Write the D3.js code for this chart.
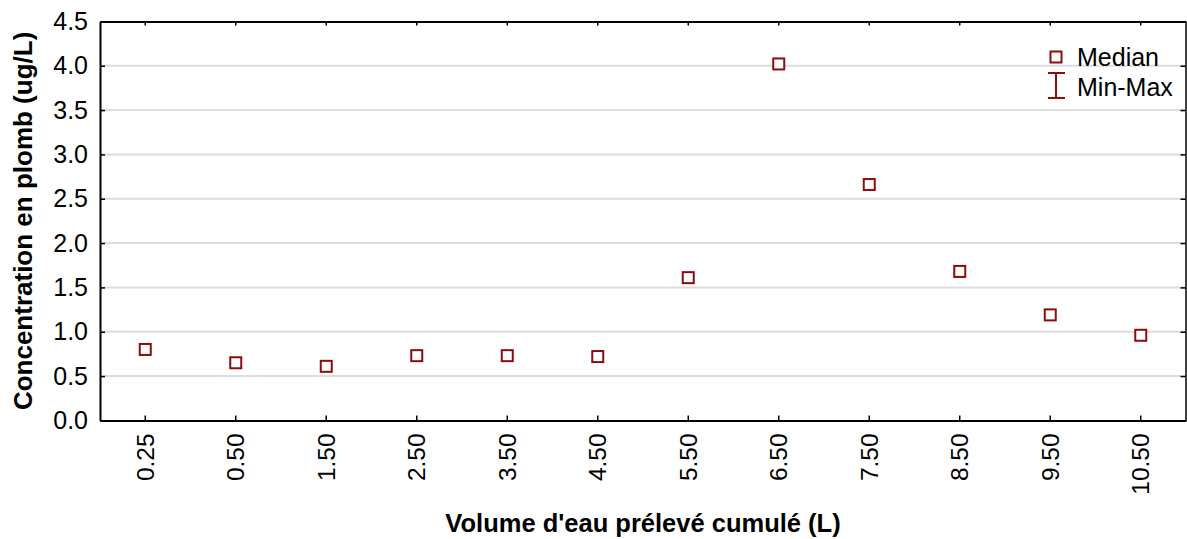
<!DOCTYPE html>
<html>
<head>
<meta charset="utf-8">
<script src="https://cdn.jsdelivr.net/npm/d3@7"></script>
<style>
  html, body { margin: 0; padding: 0; background: #fff; }
  svg { display: block; font-family: "Liberation Sans", Arial, sans-serif; }
</style>
</head>
<body>
<svg id="chart" width="1187" height="539"></svg>
<script>
// Cumulative sampled volume (L) and median lead concentration (ug/L)
const volumes = ["0.25", "0.50", "1.50", "2.50", "3.50", "4.50", "5.50", "6.50", "7.50", "8.50", "9.50", "10.50"];
const medians = [0.80, 0.65, 0.61, 0.73, 0.73, 0.72, 1.61, 4.02, 2.66, 1.68, 1.19, 0.96];
const yTicks = [0.0, 0.5, 1.0, 1.5, 2.0, 2.5, 3.0, 3.5, 4.0, 4.5];
const legendItems = ["Median", "Min-Max"];

const W = 1187, H = 539;
const margin = { left: 100, right: 1, top: 21.4, bottom: 118.6 };
const red = "#8c0c0c";
const font = "Liberation Sans, Arial, sans-serif";

const svg = d3.select("#chart");
const x = d3.scaleBand().domain(volumes).range([margin.left, W - margin.right]).paddingInner(0).paddingOuter(0);
const y = d3.scaleLinear().domain([0, 4.5]).range([H - margin.bottom, margin.top]);
const cx = d => x(d) + x.bandwidth() / 2;

// horizontal gridlines
svg.append("g")
  .selectAll("line")
  .data(yTicks.filter(t => t > 0 && t < 4.5))
  .join("line")
  .attr("x1", margin.left).attr("x2", W - margin.right)
  .attr("y1", d => y(d)).attr("y2", d => y(d))
  .attr("stroke", "#dcdcdc").attr("stroke-width", 2);

// left axis (inward ticks)
const yAxis = svg.append("g")
  .attr("transform", `translate(${margin.left},0)`)
  .call(d3.axisLeft(y).tickValues(yTicks).tickFormat(d3.format(".1f")).tickSizeInner(-5).tickSizeOuter(0).tickPadding(12));
yAxis.select(".domain").attr("stroke", "#000").attr("stroke-width", 2);
yAxis.selectAll(".tick line").attr("stroke", "#000").attr("stroke-width", 1.5);
yAxis.selectAll("text").attr("font-size", 25).attr("fill", "#000").attr("font-family", font);

// right frame with inward ticks
const yRight = svg.append("g")
  .attr("transform", `translate(${W - margin.right - 0.5},0)`)
  .call(d3.axisRight(y).tickValues(yTicks).tickFormat("").tickSizeInner(-5).tickSizeOuter(0));
yRight.select(".domain").attr("stroke", "#000").attr("stroke-width", 1.5);
yRight.selectAll(".tick line").attr("stroke", "#000").attr("stroke-width", 1.5);

// top frame with inward ticks
const xTop = svg.append("g")
  .attr("transform", `translate(0,${margin.top})`)
  .call(d3.axisTop(x).tickFormat("").tickSizeInner(-4).tickSizeOuter(0));
xTop.select(".domain").attr("stroke", "#000").attr("stroke-width", 2);
xTop.selectAll(".tick line").attr("stroke", "#000").attr("stroke-width", 1.5);

// bottom axis with rotated labels
const xAxis = svg.append("g")
  .attr("transform", `translate(0,${H - margin.bottom})`)
  .call(d3.axisBottom(x).tickSizeInner(-5).tickSizeOuter(0).tickPadding(0));
xAxis.select(".domain").attr("stroke", "#000").attr("stroke-width", 2);
xAxis.selectAll(".tick line").attr("stroke", "#000").attr("stroke-width", 1.5);
xAxis.selectAll("text")
  .attr("font-size", 24.5).attr("fill", "#000").attr("font-family", font)
  .attr("text-anchor", "end")
  .attr("transform", "translate(0,13) rotate(-90)")
  .attr("x", 0).attr("y", 0).attr("dy", "0.35em");

// median markers
svg.append("g")
  .selectAll("rect")
  .data(volumes.map((v, i) => ({ v, m: medians[i] })))
  .join("rect")
  .attr("x", d => cx(d.v) - 5.5).attr("y", d => y(d.m) - 5.5)
  .attr("width", 11).attr("height", 11)
  .attr("fill", "#fff").attr("stroke", red).attr("stroke-width", 2);

// axis titles
svg.append("text")
  .attr("x", (margin.left + W - margin.right) / 2).attr("y", 532)
  .attr("text-anchor", "middle").attr("font-size", 25.5).attr("font-weight", "bold")
  .text("Volume d'eau prélevé cumulé (L)");
svg.append("text")
  .attr("transform", `translate(32,${(margin.top + H - margin.bottom) / 2}) rotate(-90)`)
  .attr("text-anchor", "middle").attr("font-size", 26).attr("font-weight", "bold")
  .text("Concentration en plomb (ug/L)");

// legend
const lg = svg.append("g");
lg.append("rect").attr("x", 1050.5).attr("y", 51.5).attr("width", 11).attr("height", 11)
  .attr("fill", "#fff").attr("stroke", red).attr("stroke-width", 2);
const eb = lg.append("g").attr("stroke", red).attr("stroke-width", 2);
eb.append("line").attr("x1", 1056).attr("x2", 1056).attr("y1", 73).attr("y2", 98);
eb.append("line").attr("x1", 1048).attr("x2", 1065).attr("y1", 73).attr("y2", 73);
eb.append("line").attr("x1", 1048).attr("x2", 1065).attr("y1", 98).attr("y2", 98);
lg.selectAll("text.lab")
  .data(legendItems)
  .join("text")
  .attr("class", "lab")
  .attr("x", 1077).attr("y", (d, i) => 57 + i * 30).attr("dy", "0.35em")
  .attr("font-size", 25).text(d => d);
</script>
</body>
</html>
